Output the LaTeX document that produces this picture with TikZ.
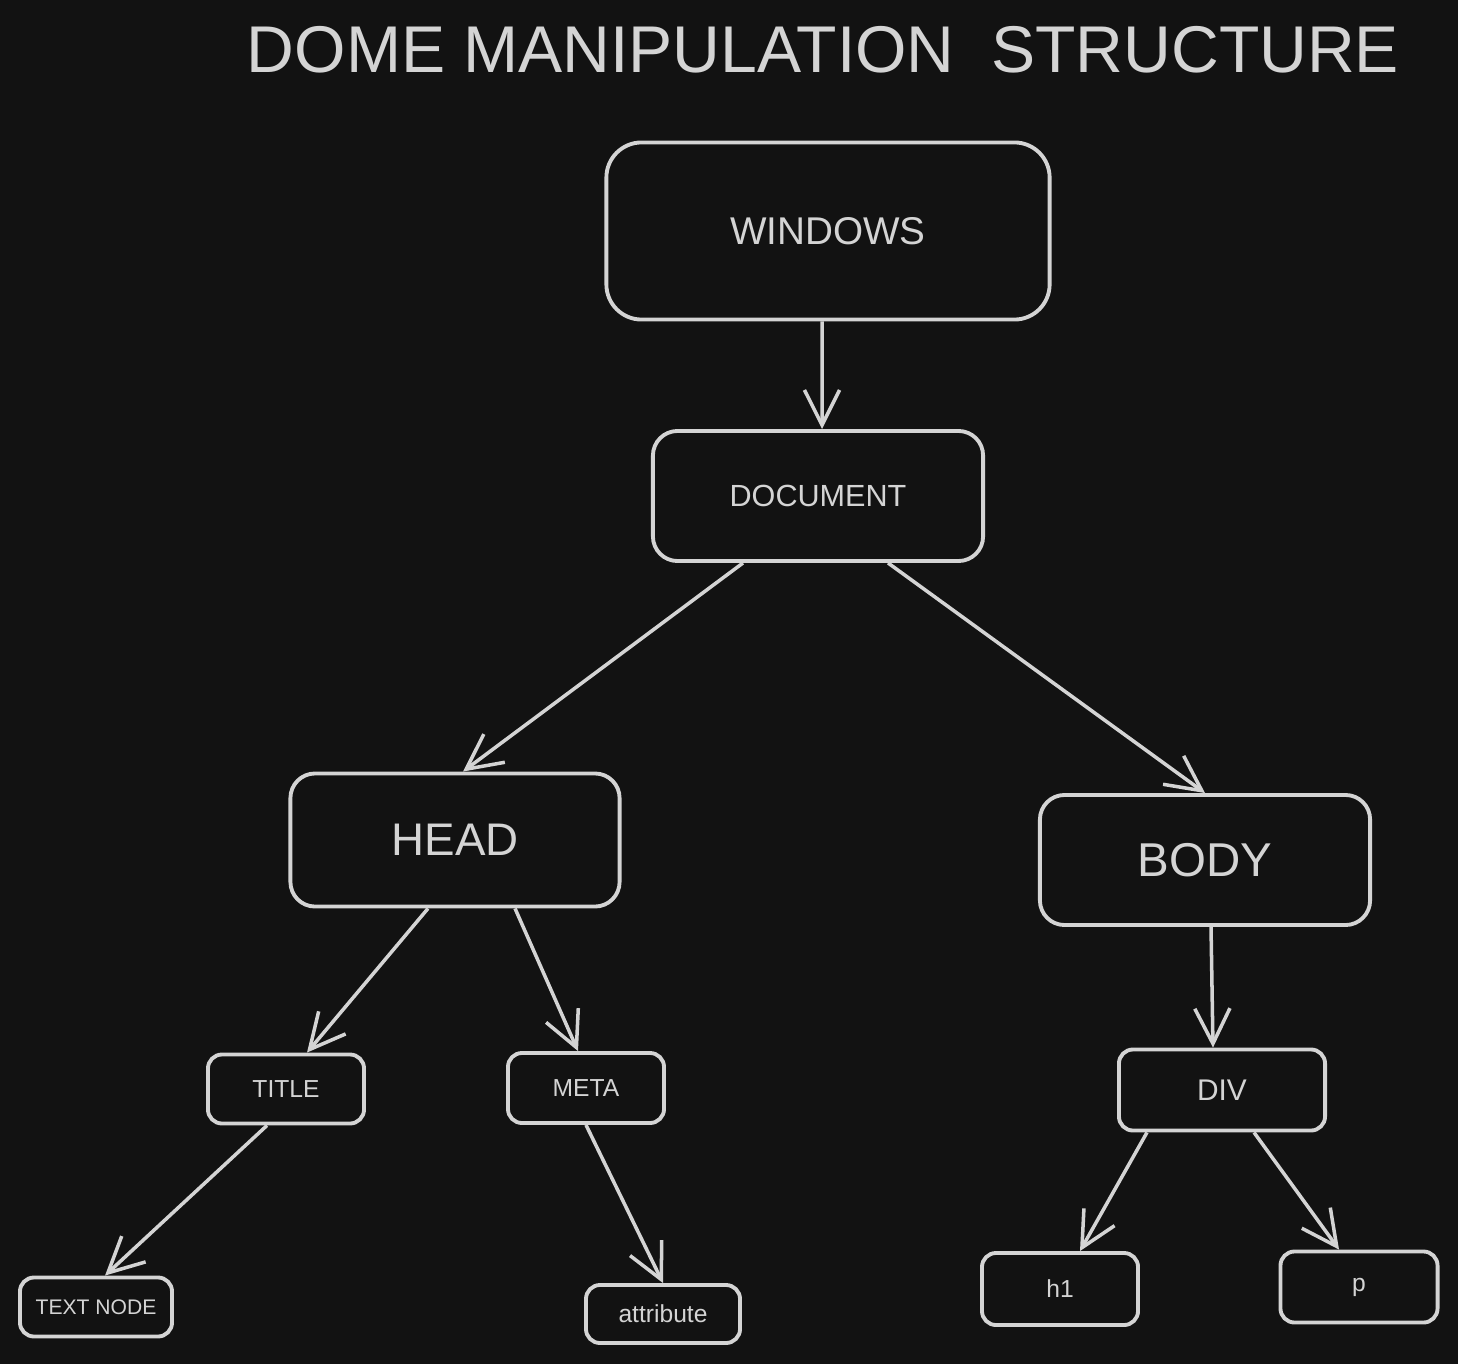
\documentclass[tikz,border=0pt]{standalone}
\usepackage{fontspec}
\setmainfont{Liberation Sans}
\usetikzlibrary{arrows.meta}
\definecolor{bgdark}{HTML}{121212}
\definecolor{chalk}{HTML}{D4D4D4}

\begin{document}
\begin{tikzpicture}[x=0.01cm,y=-0.01cm,
  box/.style={draw=chalk,line width=1.1pt,rounded corners=7pt,text=chalk,inner sep=0pt},
  small/.style={box,rounded corners=4pt,font=\fontsize{7}{8}\selectfont},
  link/.style={draw=chalk,line width=1pt,-{Straight Barb[length=10pt,width=10pt]}}]
\fill[bgdark] (0,0) rectangle (1458,1364);
\node[text=chalk,font=\fontsize{18.8}{21}\selectfont] (heading) at (823,50) {DOME MANIPULATION~~STRUCTURE};
\node[box,minimum width=4.43cm,minimum height=1.77cm,rounded corners=10pt,font=\fontsize{11}{13}\selectfont] (windows) at (828,231) {WINDOWS};
\node[box,minimum width=3.30cm,minimum height=1.30cm,font=\fontsize{8.7}{10}\selectfont] (doc) at (818,496) {DOCUMENT};
\node[box,minimum width=3.29cm,minimum height=1.33cm,font=\fontsize{13}{15}\selectfont] (head) at (455,840) {HEAD};
\node[box,minimum width=3.30cm,minimum height=1.30cm,font=\fontsize{13.5}{16}\selectfont] (body) at (1205,860) {BODY};
\node[small,minimum width=1.56cm,minimum height=0.69cm] (title) at (286,1089) {TITLE};
\node[small,minimum width=1.56cm,minimum height=0.70cm] (meta) at (586,1088) {META};
\node[small,minimum width=2.06cm,minimum height=0.81cm,font=\fontsize{8.5}{10}\selectfont] (div) at (1222,1090) {DIV};
\node[small,minimum width=1.52cm,minimum height=0.59cm,font=\fontsize{6}{7}\selectfont] (textnode) at (96,1307) {TEXT NODE};
\node[small,minimum width=1.54cm,minimum height=0.58cm] (attr) at (663,1314) {attribute};
\node[small,minimum width=1.56cm,minimum height=0.72cm] (hone) at (1060,1289) {h1};
\node[small,minimum width=1.57cm,minimum height=0.71cm] (para) at (1359,1287) {p};
\draw[link] ([xshift=-0.06cm]windows.south) -- ([xshift=0.04cm]doc.north);
\draw[link] ([xshift=-0.75cm]doc.south) -- ([xshift=0.08cm]head.north);
\draw[link] ([xshift=0.70cm]doc.south) -- (body.north);
\draw[link] ([xshift=-0.27cm]head.south) -- ([xshift=0.21cm]title.north);
\draw[link] ([xshift=0.60cm]head.south) -- ([xshift=-0.08cm]meta.north);
\draw[link] ([xshift=0.06cm]body.south) -- ([xshift=-0.09cm]div.north);
\draw[link] ([xshift=-0.19cm]title.south) -- ([xshift=0.09cm]textnode.north);
\draw[link] (meta.south) -- (attr.north);
\draw[link] ([xshift=-0.75cm]div.south) -- ([xshift=0.20cm]hone.north);
\draw[link] ([xshift=0.32cm]div.south) -- ([xshift=-0.20cm]para.north);
\end{tikzpicture}
\end{document}
